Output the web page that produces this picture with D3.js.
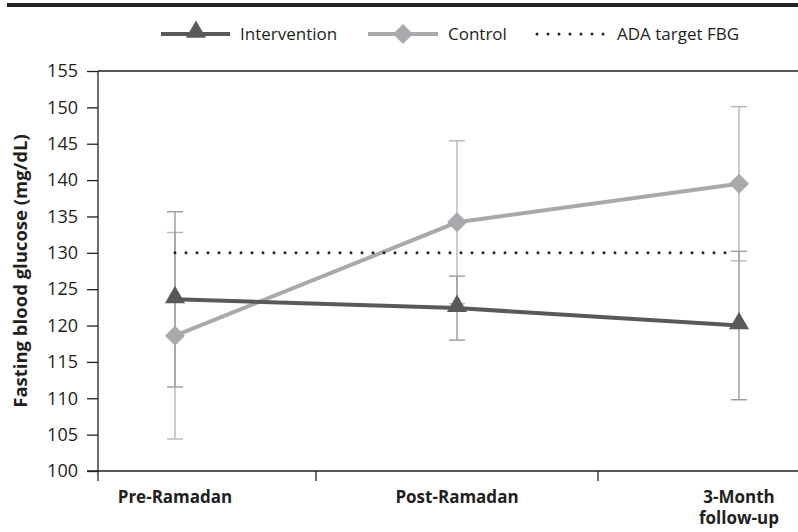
<!DOCTYPE html>
<html>
<head>
<meta charset="utf-8">
<script src="https://cdn.jsdelivr.net/npm/d3@7"></script>
<style>
  body { margin: 0; background: #fff; }
  svg { display: block; font-family: "Open Sans", sans-serif; }
</style>
</head>
<body>
<svg id="chart" width="798" height="532"></svg>
<script>
// Chart data
const categories = ['Pre-Ramadan', 'Post-Ramadan', '3-Month follow-up'];
const interventionMean = [123.6, 122.4, 120.0];
const interventionErr = [12.05, 4.4, 10.2];
const controlMean = [118.6, 134.2, 139.5];
const controlErr = [14.2, 11.2, 10.6];
const targetFBG = 130;
const yTicks = [100, 105, 110, 115, 120, 125, 130, 135, 140, 145, 150, 155];

const svg = d3.select('#chart');

// Scales (first band is partly cut off by the value axis, as in the figure)
const xScale = d3.scaleBand()
  .domain(categories)
  .range([34, 880]);

const yScale = d3.scaleLinear()
  .domain([100, 155])
  .range([471, 71]);

const cx = d => xScale(d) + xScale.bandwidth() / 2;
const axisX = 98;

// Top rule
svg.append('rect')
  .attr('x', 7).attr('y', 3)
  .attr('width', 791).attr('height', 4)
  .attr('fill', '#231f20');

// Top line at 155
svg.append('line')
  .attr('x1', axisX).attr('x2', 798)
  .attr('y1', yScale(155)).attr('y2', yScale(155))
  .attr('stroke', '#231f20').attr('stroke-width', 1.3);

// Y axis
const yAxis = svg.append('g')
  .attr('transform', `translate(${axisX},0)`)
  .call(d3.axisLeft(yScale).tickValues(yTicks).tickSize(11).tickPadding(9));
yAxis.select('.domain').remove();
yAxis.append('line')
  .attr('y1', yScale(155)).attr('y2', yScale(100) + 10)
  .attr('stroke', '#231f20').attr('stroke-width', 1.3);
yAxis.selectAll('.tick line').attr('stroke', '#231f20').attr('stroke-width', 1.3);
yAxis.selectAll('.tick text')
  .attr('font-family', '"Open Sans", sans-serif')
  .attr('font-size', 18)
  .attr('fill', '#231f20');

// X axis
svg.append('line')
  .attr('x1', 87).attr('x2', 798)
  .attr('y1', yScale(100)).attr('y2', yScale(100))
  .attr('stroke', '#231f20').attr('stroke-width', 1.3);

svg.selectAll('.xtick')
  .data(categories.slice(1))
  .enter()
  .append('line')
  .attr('class', 'xtick')
  .attr('x1', d => xScale(d)).attr('x2', d => xScale(d))
  .attr('y1', yScale(100)).attr('y2', yScale(100) + 10)
  .attr('stroke', '#231f20').attr('stroke-width', 1.3);

const catLabels = [['Pre-Ramadan'], ['Post-Ramadan'], ['3-Month', 'follow-up']];
categories.forEach((c, i) => {
  const t = svg.append('text')
    .attr('x', cx(c))
    .attr('y', 503)
    .attr('text-anchor', 'middle')
    .attr('font-size', 17)
    .attr('font-weight', 'bold')
    .attr('fill', '#231f20');
  catLabels[i].forEach((line, j) => {
    t.append('tspan').attr('x', cx(c)).attr('dy', j === 0 ? 0 : 21).text(line);
  });
});

// Y axis title
svg.append('text')
  .attr('transform', `translate(27, ${(yScale(100) + yScale(155)) / 2}) rotate(-90)`)
  .attr('text-anchor', 'middle')
  .attr('font-size', 18.5)
  .attr('font-weight', 'bold')
  .attr('fill', '#231f20')
  .text('Fasting blood glucose (mg/dL)');

// Error bars
function errorBars(means, errs, color) {
  const g = svg.append('g').attr('stroke', color).attr('stroke-width', 1.4);
  categories.forEach((c, i) => {
    const x = cx(c);
    const lo = yScale(means[i] - errs[i]);
    const hi = yScale(means[i] + errs[i]);
    g.append('line').attr('x1', x).attr('x2', x).attr('y1', lo).attr('y2', hi);
    g.append('line').attr('x1', x - 8).attr('x2', x + 8).attr('y1', lo).attr('y2', lo);
    g.append('line').attr('x1', x - 8).attr('x2', x + 8).attr('y1', hi).attr('y2', hi);
  });
}
errorBars(controlMean, controlErr, '#b5b6b8');
errorBars(interventionMean, interventionErr, '#9a9b9d');

// Series lines
const line = d3.line()
  .x((d, i) => cx(categories[i]))
  .y(d => yScale(d));

svg.append('path')
  .datum(controlMean)
  .attr('d', line)
  .attr('fill', 'none')
  .attr('stroke', '#a7a9ac')
  .attr('stroke-width', 4);

svg.append('path')
  .datum(interventionMean)
  .attr('d', line)
  .attr('fill', 'none')
  .attr('stroke', '#58595b')
  .attr('stroke-width', 4);

// ADA target line
svg.append('line')
  .attr('x1', cx(categories[0])).attr('x2', cx(categories[2]) - 6)
  .attr('y1', yScale(targetFBG)).attr('y2', yScale(targetFBG))
  .attr('stroke', '#231f20')
  .attr('stroke-width', 3)
  .attr('stroke-linecap', 'round')
  .attr('stroke-dasharray', '0 11');

// Markers
const triangle = d3.symbol().type(d3.symbolTriangle).size(175);
const diamond = d3.symbol().type(d3.symbolSquare).size(200);

svg.selectAll('.ctl')
  .data(controlMean)
  .enter()
  .append('path')
  .attr('class', 'ctl')
  .attr('d', diamond)
  .attr('transform', (d, i) => `translate(${cx(categories[i])},${yScale(d)}) rotate(45)`)
  .attr('fill', '#a7a9ac');

svg.selectAll('.int')
  .data(interventionMean)
  .enter()
  .append('path')
  .attr('class', 'int')
  .attr('d', triangle)
  .attr('transform', (d, i) => `translate(${cx(categories[i])},${yScale(d) - 2})`)
  .attr('fill', '#58595b');

// Legend
const legendY = 34;
const legend = svg.append('g');

legend.append('line')
  .attr('x1', 161).attr('x2', 230).attr('y1', legendY).attr('y2', legendY)
  .attr('stroke', '#58595b').attr('stroke-width', 4);
legend.append('path')
  .attr('d', triangle)
  .attr('transform', `translate(196,${legendY - 2})`)
  .attr('fill', '#58595b');
legend.append('text')
  .attr('x', 240).attr('y', legendY).attr('dy', '0.35em')
  .attr('font-size', 17).attr('fill', '#231f20')
  .text('Intervention');

legend.append('line')
  .attr('x1', 368).attr('x2', 438).attr('y1', legendY).attr('y2', legendY)
  .attr('stroke', '#a7a9ac').attr('stroke-width', 4);
legend.append('path')
  .attr('d', diamond)
  .attr('transform', `translate(403,${legendY}) rotate(45)`)
  .attr('fill', '#a7a9ac');
legend.append('text')
  .attr('x', 448).attr('y', legendY).attr('dy', '0.35em')
  .attr('font-size', 17).attr('fill', '#231f20')
  .text('Control');

legend.append('line')
  .attr('x1', 537).attr('x2', 604).attr('y1', legendY).attr('y2', legendY)
  .attr('stroke', '#231f20').attr('stroke-width', 3)
  .attr('stroke-linecap', 'round').attr('stroke-dasharray', '0 11');
legend.append('text')
  .attr('x', 617).attr('y', legendY).attr('dy', '0.35em')
  .attr('font-size', 17).attr('fill', '#231f20')
  .text('ADA target FBG');
</script>
</body>
</html>
